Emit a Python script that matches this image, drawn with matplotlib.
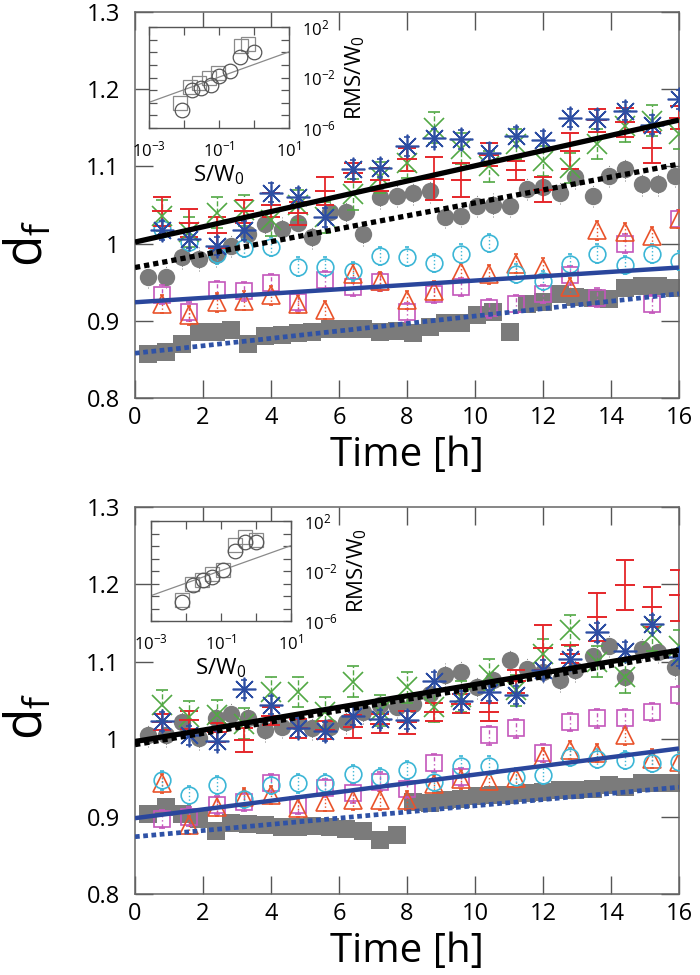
import numpy as np
import matplotlib
matplotlib.use("Agg")
import matplotlib.pyplot as plt
from matplotlib.ticker import FuncFormatter, NullLocator

plt.rcParams['font.family'] = ['Open Sans', 'DejaVu Sans']
plt.rcParams['mathtext.fontset'] = 'custom'
plt.rcParams['mathtext.rm'] = 'Open Sans'
plt.rcParams['mathtext.it'] = 'Open Sans:italic'
plt.rcParams['mathtext.default'] = 'regular'

# ---------------- data ----------------
t_k = [0.8, 1.6, 2.4, 3.2, 4.0, 4.8, 5.6, 6.4, 7.2, 8.0, 8.8, 9.6, 10.4, 11.2, 12.0, 12.8, 13.6, 14.4, 15.2, 16.0]
t_c = [0.39, 0.91, 1.37, 1.89, 2.38, 2.81, 3.33, 3.82, 4.31, 4.8, 5.22, 5.74, 6.2, 6.71, 7.2, 7.7, 8.19,
       8.68, 9.12, 9.6, 10.05, 10.54, 11.03, 11.52, 12.0, 12.5, 12.94, 13.48, 13.95, 14.41, 14.9, 15.39, 15.88]

# top panel
top_blue = [1.017, 1.006, 0.997, 1.017, 1.066, 1.060, 1.034, 1.096, 1.098, 1.126, 1.137, 1.135, 1.118, 1.139,
            1.134, 1.163, 1.161, 1.172, 1.154, 1.187]
top_green = [1.036, 1.015, 1.040, 1.043, 1.030, 1.050, 1.034, 1.064, 1.086, 1.105, 1.150, 1.123, 1.100, 1.129,
             1.107, 1.098, 1.129, 1.152, 1.159, 1.142]
top_red = [1.042, 1.027, 1.014, 1.042, 1.050, 1.039, 1.068, 1.092, 1.083, 1.109, 1.084, 1.082, 1.115, 1.095,
           1.070, 1.120, 1.160, 1.157, 1.124, 1.163]
top_red_err = [0.019, 0.018, 0.02, 0.015, 0.015, 0.015, 0.018, 0.012, 0.015, 0.015, 0.028, 0.022, 0.015, 0.012,
               0.016, 0.023, 0.015, 0.019, 0.02, 0.015]
top_circ = [0.957, 0.957, 0.982, 0.980, 0.985, 0.997, 1.012, 1.025, 1.019, 1.027, 1.008, 1.041, 1.041, 1.012,
            1.060, 1.062, 1.065, 1.068, 1.035, 1.036, 1.049, 1.050, 1.049, 1.071, 1.073, 1.066, 1.086, 1.062,
            1.088, 1.096, 1.077, 1.077, 1.088]
top_cyan = [1.019, 1.002, 0.986, 0.994, 0.996, 0.970, 0.970, 0.964, 0.984, 0.983, 0.975, 0.987, 1.001, 0.961,
            0.952, 0.974, 0.987, 0.972, 0.987, 0.978]
top_mag = [0.934, 0.912, 0.940, 0.938, 0.949, 0.925, 0.953, 0.944, 0.950, 0.911, 0.935, 0.944, 0.916, 0.922,
           0.935, 0.959, 0.930, 1.000, 0.922, 1.032]
top_tri = [0.922, 0.907, 0.924, 0.926, 0.933, 0.922, 0.914, 0.961, 0.951, 0.927, 0.939, 0.963, 0.960, 0.974,
           0.969, 0.944, 1.017, 1.015, 1.010, 1.032]
top_sq = [0.857, 0.860, 0.870, 0.886, 0.886, 0.888, 0.870, 0.880, 0.882, 0.884, 0.886, 0.890, 0.890, 0.889,
          0.886, 0.887, 0.884, 0.892, 0.897, 0.897, 0.907, 0.912, 0.886, 0.922, 0.925, 0.935, 0.931, 0.930,
          0.928, 0.943, 0.945, 0.945, 0.943]
# linear fits: [black solid, black dotted, blue solid, blue dotted] -> (value at t=0, value at t=16)
top_fit_start = [1.002, 0.969, 0.924, 0.858]
top_fit_end = [1.160, 1.103, 0.969, 0.935]

# bottom panel
bot_blue = [1.023, 1.005, 0.998, 1.065, 1.044, 1.015, 1.010, 1.030, 1.026, 1.025, 1.075, 1.050, 1.061, 1.057,
            1.090, 1.103, 1.138, 1.114, 1.149, 1.106]
bot_green = [1.044, 1.029, 1.031, 1.020, 1.061, 1.061, 1.035, 1.074, 1.037, 1.067, 1.042, 1.055, 1.083, 1.063,
             1.110, 1.141, 1.100, 1.080, 1.134, 1.121]
bot_red = [1.022, 1.025, 1.009, 0.999, 1.030, 1.014, 1.012, 1.016, 1.020, 1.022, 1.035, 1.046, 1.035, 1.075,
           1.118, 1.110, 1.158, 1.199, 1.171, 1.186]
bot_red_err = [0.01, 0.012, 0.012, 0.015, 0.012, 0.012, 0.012, 0.015, 0.012, 0.015, 0.012, 0.012, 0.012, 0.015,
               0.029, 0.012, 0.031, 0.032, 0.026, 0.033]
bot_circ = [1.005, 1.005, 1.022, 1.001, 1.027, 1.033, 1.027, 1.012, 1.016, 1.022, 1.014, 1.016, 1.022, 1.035,
            1.044, 1.042, 1.046, 1.059, 1.083, 1.087, 1.067, 1.076, 1.102, 1.091, 1.087, 1.076, 1.089, 1.108,
            1.121, 1.080, 1.117, 1.113, 1.093]
bot_cyan = [0.947, 0.928, 0.941, 0.923, 0.941, 0.943, 0.943, 0.955, 0.951, 0.960, 0.945, 0.966, 0.966, 0.951,
            0.954, 0.977, 0.975, 0.973, 0.969, 0.971]
bot_mag = [0.897, 0.900, 0.915, 0.919, 0.943, 0.915, 0.937, 0.930, 0.945, 0.936, 0.969, 0.951, 1.005, 1.014,
           0.982, 1.022, 1.027, 1.027, 1.035, 1.057]
bot_tri = [0.943, 0.889, 0.913, 0.925, 0.928, 0.911, 0.919, 0.921, 0.921, 0.921, 0.942, 0.948, 0.946, 0.950,
           0.977, 0.986, 0.982, 1.005, 0.975, 0.971]
bot_sq = [0.904, 0.913, 0.904, 0.897, 0.882, 0.892, 0.891, 0.889, 0.886, 0.887, 0.888, 0.887, 0.884, 0.881,
          0.870, 0.876, 0.919, 0.917, 0.921, 0.923, 0.926, 0.928, 0.928, 0.930, 0.932, 0.934, 0.934, 0.936,
          0.941, 0.938, 0.943, 0.943, 0.943]
bot_fit_start = [0.997, 0.993, 0.898, 0.874]
bot_fit_end = [1.115, 1.110, 0.988, 0.938]

err_small = 0.012
err_green = 0.02

# insets (log10 values)
top_in_circ_x = [-2.07, -1.78, -1.51, -1.24, -0.99, -0.69, -0.40, 0.01]
top_in_circ_y = [-4.57, -2.99, -2.86, -2.59, -1.88, -1.46, -0.35, 0.04]
top_in_sq_x = [-2.11, -1.83, -1.56, -1.28, -1.02, -0.38, -0.16]
top_in_sq_y = [-4.04, -2.78, -2.41, -2.07, -1.67, 0.52, 0.65]
bot_in_circ_x = [-2.12, -1.80, -1.52, -1.26, -0.93, -0.60, -0.31, 0.00]
bot_in_circ_y = [-4.46, -3.13, -2.73, -2.47, -1.88, -0.42, 0.33, 0.33]
bot_in_sq_x = [-2.12, -1.83, -1.55, -1.26, -0.95, -0.60, -0.31, 0.00]
bot_in_sq_y = [-4.30, -3.00, -2.70, -2.20, -1.88, 0.12, 0.73, 0.52]
in_fit_slope = 1.0
in_fit_intercept = -0.97

# ---------------- styles ----------------
C_BLUE = '#2d4ea3'
C_GREEN = '#52a844'
C_RED = '#e5262a'
C_GRAY = '#7b7b7b'
C_CYAN = '#3cb6d6'
C_MAG = '#c456bb'
C_ORANGE = '#e9532b'
C_LBLUE = '#2a469c'
C_LBLUE2 = '#2f52a6'

fig = plt.figure(figsize=(7.0, 9.75), dpi=100)


def eb(ax, x, y, err, marker, color, ms, mfc, ls_err, capsize, mew=1.2, z=3, elw=1.0):
    c = ax.errorbar(x, y, yerr=err, fmt='', marker=marker, linestyle='none', color=color, ms=ms, mfc=mfc,
                    mec=color, mew=mew, ecolor=color, elinewidth=elw, capsize=capsize, capthick=elw, zorder=z)
    for bl in c[2]:
        bl.set_linestyle(ls_err)
    return c


def panel(rect, blue, green, red, red_err, circ, cyan, mag, tri, sq, fs, fe,
          inrect, icx, icy, isx, isy, ylab_y):
    ax = fig.add_axes(rect)
    ax.set_xlim(0, 16)
    ax.set_ylim(0.8, 1.3)
    # gray squares
    eb(ax, t_c, sq, 0.006, 's', C_GRAY, 12.5, C_GRAY, ':', 2, mew=0, z=2, elw=0.6)
    # gray circles
    eb(ax, t_c, circ, 0.015, 'o', C_GRAY, 12.5, C_GRAY, ':', 2.5, mew=0, z=3, elw=0.7)
    eb(ax, t_k, mag, err_small, 's', C_MAG, 12, 'none', (0, (3, 2, 1, 2)), 2, z=4)
    eb(ax, t_k, tri, err_small, '^', C_ORANGE, 13, 'none', ':', 1.5, z=4)
    eb(ax, t_k, cyan, err_small, 'o', C_CYAN, 12, 'none', ':', 1.5, z=4)
    eb(ax, t_k, green, err_green, 'x', C_GREEN, 14, 'none', '--', 4, z=5)
    eb(ax, t_k, red, red_err, '_', C_RED, 14, 'none', '-', 6.5, mew=1.4, z=5, elw=1.3)
    eb(ax, t_k, blue, err_small, (8, 2, 0), C_BLUE, 17, 'none', ':', 2, mew=1.2, z=6)
    ax.plot(t_k, blue, 'o', color=C_BLUE, ms=3, zorder=6)

    # fit lines
    tt = np.array([0.0, 16.0])
    ax.plot(tt, [fs[0], fe[0]], color='black', lw=3.8, zorder=7, solid_capstyle='butt')
    ax.plot(tt, [fs[1], fe[1]], color='black', lw=3.8, ls=(0, (1, 0.75)), zorder=7, dash_capstyle='butt')
    ax.plot(tt, [fs[2], fe[2]], color=C_LBLUE, lw=3.2, zorder=7, solid_capstyle='butt')
    ax.plot(tt, [fs[3], fe[3]], color=C_LBLUE2, lw=3.4, ls=(0, (1, 0.75)), zorder=7, dash_capstyle='butt')

    ax.set_xticks(np.arange(0, 17, 2))
    ax.set_yticks([0.8, 0.9, 1.0, 1.1, 1.2, 1.3])
    ax.yaxis.set_major_formatter(FuncFormatter(lambda v, p: '%g' % round(v, 2)))
    ax.tick_params(direction='in', length=13, width=1.0, color='#555555', top=True, right=True,
                   labelsize=17, pad=6)
    ax.tick_params(axis='y', pad=11)
    for s in ax.spines.values():
        s.set_color('#666666')
        s.set_linewidth(1.1)
    ax.set_xlabel('Time [h]', fontsize=29, labelpad=4)
    ax.set_ylabel('d$_{f}$', fontsize=37)
    ax.yaxis.set_label_coords(-0.148, ylab_y)

    # inset
    ai = fig.add_axes(inrect)
    ai.set_xscale('log')
    ai.set_yscale('log')
    ai.set_xlim(1e-3, 1e1)
    ai.set_ylim(1e-6, 1e2)
    xx = np.array([-3.0, 1.0])
    ai.plot(10 ** xx, 10 ** (in_fit_slope * xx + in_fit_intercept), color='#8a8a8a', lw=0.9, zorder=2)
    ai.plot(10 ** np.array(isx), 10 ** np.array(isy), 's', ms=10, mfc='none', mec='#8a8a8a', mew=0.9, zorder=3)
    ai.plot(10 ** np.array(icx), 10 ** np.array(icy), 'o', ms=10.5, mfc='none', mec='#555555', mew=0.9, zorder=4)
    ai.set_xticks([1e-3, 1e-2, 1e-1, 1e0, 1e1])
    ai.set_xticklabels(['$10^{-3}$', '', '$10^{-1}$', '', '$10^{1}$'])
    ai.set_yticks([1e-6, 1e-5, 1e-4, 1e-3, 1e-2, 1e-1, 1e0, 1e1, 1e2])
    ai.set_yticklabels(['$10^{-6}$', '', '', '', '$10^{-2}$', '', '', '', '$10^{2}$'])
    ai.xaxis.set_minor_locator(NullLocator())
    ai.yaxis.set_minor_locator(NullLocator())
    ai.tick_params(direction='in', length=6, width=0.9, color='#555555', top=True, right=True,
                   left=True, labelleft=False, labelright=True, labelsize=12)
    ai.tick_params(axis='x', pad=9)
    ai.tick_params(axis='y', pad=9)
    for s in ai.spines.values():
        s.set_color('#555555')
        s.set_linewidth(1.0)
    ai.set_xlabel('S/W$_0$', fontsize=16, labelpad=2)
    ai.yaxis.set_label_position('right')
    ai.set_ylabel('RMS/W$_0$', fontsize=16, labelpad=6)
    ai.set_facecolor('white')
    return ax, ai


W, H = 700.0, 975.0
panel([135 / W, 1 - 398 / H, 544 / W, 386 / H], top_blue, top_green, top_red, top_red_err, top_circ,
      top_cyan, top_mag, top_tri, top_sq, top_fit_start, top_fit_end,
      [149 / W, 1 - 128 / H, 140 / W, 101 / H], top_in_circ_x, top_in_circ_y, top_in_sq_x, top_in_sq_y, 0.40)
panel([135 / W, 1 - 894 / H, 544 / W, 387 / H], bot_blue, bot_green, bot_red, bot_red_err, bot_circ,
      bot_cyan, bot_mag, bot_tri, bot_sq, bot_fit_start, bot_fit_end,
      [151 / W, 1 - 621 / H, 140 / W, 100 / H], bot_in_circ_x, bot_in_circ_y, bot_in_sq_x, bot_in_sq_y, 0.46)

fig.savefig('out.png', dpi=100)
